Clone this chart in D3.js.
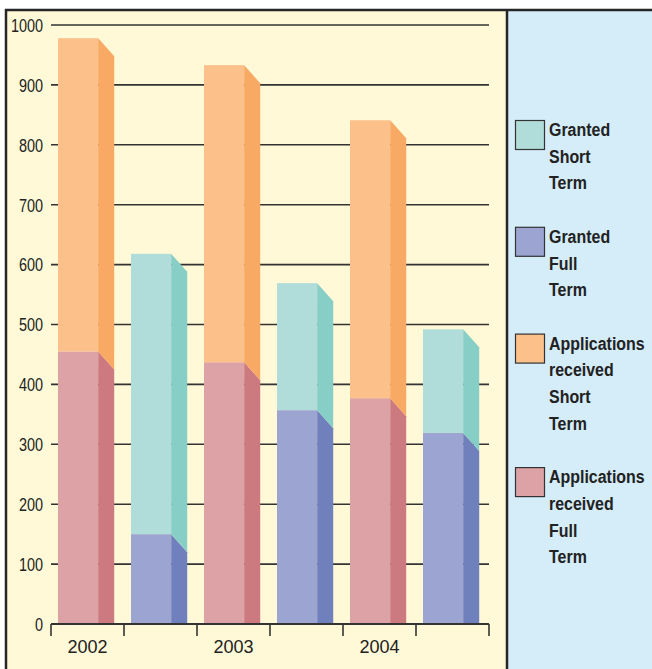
<!DOCTYPE html>
<html>
<head>
<meta charset="utf-8">
<script src="https://cdn.jsdelivr.net/npm/d3@7"></script>
<style>
  html, body { margin: 0; padding: 0; background: #ffffff; }
  svg { display: block; }
</style>
</head>
<body>
<svg id="chart" width="652" height="669"></svg>
<script>
// Years shown on the x axis; each year has an "applications" bar and a "granted" bar
const years = ["2002", "2003", "2004"];
const seriesNames = [
  "Granted Short Term",
  "Granted Full Term",
  "Applications received Short Term",
  "Applications received Full Term"
];
const appsFull = [455, 437, 377];
const appsShort = [523, 496, 464];
const grantedFull = [150, 357, 319];
const grantedShort = [468, 212, 173];
const yTicks = [0, 100, 200, 300, 400, 500, 600, 700, 800, 900, 1000];

// front / side shades per series
const colors = {
  "Granted Short Term": { front: "#b0ddd9", side: "#87cfc6" },
  "Granted Full Term": { front: "#9ca5d2", side: "#7080bd" },
  "Applications received Short Term": { front: "#fcc08a", side: "#f8a964" },
  "Applications received Full Term": { front: "#dca2a6", side: "#cc7a80" }
};

const svg = d3.select("#chart");
const W = 652, H = 669;
const sans = "'Liberation Sans', Arial, Helvetica, sans-serif";

// condensed-looking text: regular face squeezed horizontally
function label(parent, x, y, str, opts) {
  const o = Object.assign({ size: 18, sx: 1, anchor: "start", weight: "normal", dy: null }, opts);
  const t = parent.append("text")
    .attr("transform", `translate(${x},${y}) scale(${o.sx},1)`)
    .attr("text-anchor", o.anchor)
    .attr("font-family", sans)
    .attr("font-size", o.size)
    .attr("font-weight", o.weight)
    .attr("fill", "#222")
    .text(str);
  if (o.dy) t.attr("dy", o.dy);
  return t;
}

// panels
svg.append("rect").attr("x", 6).attr("y", 10).attr("width", 501).attr("height", H - 10).attr("fill", "#fff9d7");
svg.append("rect").attr("x", 507).attr("y", 10).attr("width", W - 507).attr("height", H - 10).attr("fill", "#d5ecf9");
svg.append("line").attr("x1", 5).attr("x2", W).attr("y1", 10).attr("y2", 10).attr("stroke", "#262626").attr("stroke-width", 2.5);
svg.append("line").attr("x1", 6).attr("x2", 6).attr("y1", 9).attr("y2", H).attr("stroke", "#262626").attr("stroke-width", 2.5);
svg.append("line").attr("x1", 507).attr("x2", 507).attr("y1", 9).attr("y2", H).attr("stroke", "#262626").attr("stroke-width", 2.5);

// scales
const y = d3.scaleLinear().domain([0, 1000]).range([624, 25]);
const slots = [];
years.forEach(yr => { slots.push(yr + "|A"); slots.push(yr + "|G"); });
const x = d3.scaleBand().domain(slots).range([51, 489]).padding(0);

// gridlines with y labels
const grid = svg.append("g");
yTicks.filter(t => t > 0).forEach(t => {
  grid.append("line")
    .attr("x1", 51).attr("x2", 489)
    .attr("y1", y(t)).attr("y2", y(t))
    .attr("stroke", "#333").attr("stroke-width", 1.6);
});
yTicks.forEach(t => {
  label(svg, 43, y(t), t, { size: 19, sx: 0.76, anchor: "end", dy: "0.36em" });
});

// build stacked segments
const segments = [];
years.forEach((yr, i) => {
  segments.push({ slot: yr + "|A", series: "Applications received Full Term", v0: 0, v1: appsFull[i] });
  segments.push({ slot: yr + "|A", series: "Applications received Short Term", v0: appsFull[i], v1: appsFull[i] + appsShort[i] });
  segments.push({ slot: yr + "|G", series: "Granted Full Term", v0: 0, v1: grantedFull[i] });
  segments.push({ slot: yr + "|G", series: "Granted Short Term", v0: grantedFull[i], v1: grantedFull[i] + grantedShort[i] });
});

const inset = x.bandwidth() * 0.096;
const frontW = x.bandwidth() * 0.55;
const sideW = x.bandwidth() * 0.22;
const drop = 18;

const bars = svg.append("g");
segments.forEach(s => {
  const xl = x(s.slot) + inset;
  const xr = xl + frontW;
  const yt = y(s.v1), yb = y(s.v0);
  bars.append("rect")
    .attr("x", xl).attr("y", yt)
    .attr("width", frontW).attr("height", yb - yt)
    .attr("fill", colors[s.series].front);
  const ybr = s.v0 === 0 ? yb : yb + drop;
  const pts = [[xr, yt], [xr + sideW, yt + drop], [xr + sideW, ybr], [xr, yb]];
  bars.append("polygon")
    .attr("points", pts.map(p => p.join(",")).join(" "))
    .attr("fill", colors[s.series].side);
});

// x axis
svg.append("line").attr("x1", 51).attr("x2", 489).attr("y1", y(0)).attr("y2", y(0))
  .attr("stroke", "#333").attr("stroke-width", 2);
const tickXs = slots.map(s => x(s)).concat([x(slots[slots.length - 1]) + x.bandwidth()]);
tickXs.forEach(tx => {
  svg.append("line").attr("x1", tx).attr("x2", tx).attr("y1", y(0)).attr("y2", y(0) + 12)
    .attr("stroke", "#333").attr("stroke-width", 1.6);
});
years.forEach(yr => {
  label(svg, x(yr + "|A") + x.bandwidth() / 2, 653, yr, { size: 19, sx: 0.95, anchor: "middle" });
});

// legend
const legendLines = [
  ["Granted", "Short", "Term"],
  ["Granted", "Full", "Term"],
  ["Applications", "received", "Short", "Term"],
  ["Applications", "received", "Full", "Term"]
];
const lineH = 26.7;
let ly = 120;
seriesNames.forEach((name, i) => {
  const g = svg.append("g");
  g.append("rect")
    .attr("x", 515.5).attr("y", ly + 0.5)
    .attr("width", 29).attr("height", 29)
    .attr("fill", colors[name].front)
    .attr("stroke", "#333").attr("stroke-width", 1.2);
  legendLines[i].forEach((t, k) => {
    label(g, 549, ly + 16 + k * lineH, t, { size: 19, sx: 0.84, weight: "bold" });
  });
  ly += (legendLines[i].length + 1) * lineH;
});
</script>
</body>
</html>
